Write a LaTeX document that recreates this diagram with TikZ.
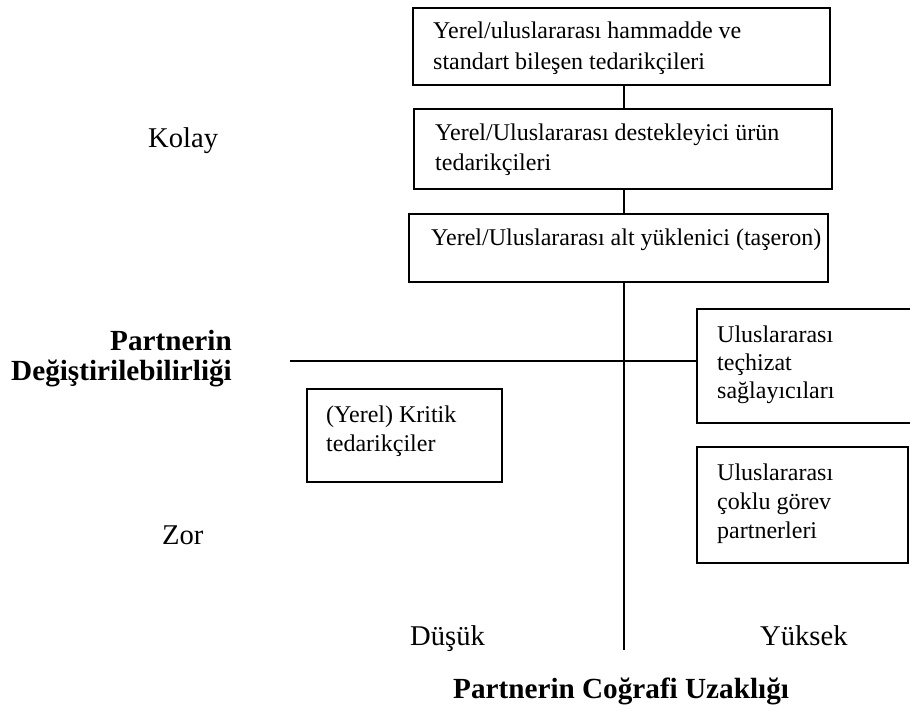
\documentclass[tikz,border=0pt]{standalone}
\usepackage{fontspec}
\setmainfont{Liberation Serif}
\begin{document}
\begin{tikzpicture}[x=1pt,y=-1pt,
  boxframe/.style={draw=black,line width=1.9pt,rectangle,inner sep=0pt,anchor=north west},
  boxtext/.style={anchor=base west,inner sep=0pt,align=left,font=\fontsize{24}{30}\selectfont},
  axislabel/.style={anchor=base west,inner sep=0pt,font=\fontsize{28.6}{32}\selectfont},
  axistitle/.style={inner sep=0pt,align=right,font=\fontsize{29.2}{30}\selectfont\bfseries},
  axisline/.style={draw=black,line width=1.3pt}]
\useasboundingbox (0,0) rectangle (910,717);

% chain of supplier boxes along the vertical axis
% (multi-line texts are placed by the baseline of their last line)
\node[boxframe,minimum width=417pt,minimum height=77pt] (b1) at (412,7) {};
\node[boxtext,font=\fontsize{24}{31}\selectfont] (t1) at (433,70) {Yerel/uluslararası hammadde ve\\standart bileşen tedarikçileri};
\node[boxframe,minimum width=418pt,minimum height=80pt] (b2) at (413,108) {};
\node[boxtext] (t2) at (435,170) {Yerel/Uluslararası destekleyici ürün\\tedarikçileri};
\node[boxframe,minimum width=419pt,minimum height=68pt] (b3) at (408,213) {};
\node[boxtext] (t3) at (431,245) {Yerel/Uluslararası alt yüklenici (taşeron)};

% boxes of the lower quadrants
\node[boxframe,minimum width=216pt,minimum height=114pt] (r1) at (696,308) {};
\node[boxtext,font=\fontsize{24}{28}\selectfont] (tr1) at (717,398) {Uluslararası\\teçhizat\\sağlayıcıları};
\node[boxframe,minimum width=211pt,minimum height=116pt] (r2) at (696,446) {};
\node[boxtext,font=\fontsize{24}{29}\selectfont] (tr2) at (717,538) {Uluslararası\\çoklu görev\\partnerleri};
\node[boxframe,minimum width=195pt,minimum height=93pt] (l1) at (306,388) {};
\node[boxtext,font=\fontsize{24}{29}\selectfont] (tl1) at (326,451) {(Yerel) Kritik\\tedarikçiler};

% axes
\coordinate (axbot) at (624,650);
\coordinate (axleft) at (290,361);
\draw[axisline] (b1.south -| axbot) -- (b2.north -| axbot);
\draw[axisline] (b2.south -| axbot) -- (b3.north -| axbot);
\draw[axisline] (b3.south -| axbot) -- (axbot);
\draw[axisline] (axleft) -- (axleft -| r1.west);

% axis labels
\node[axislabel] (kolay) at (148,147) {Kolay};
\node[axislabel] (zor) at (162,544) {Zor};
\node[axislabel] (dusuk) at (410,645) {Düşük};
\node[axislabel] (yuksek) at (760,645) {Yüksek};
\node[axistitle,anchor=base east] (ytitle) at (232,380) {Partnerin\\Değiştirilebilirliği};
\node[axistitle,anchor=base west] (xtitle) at (453,698) {Partnerin Coğrafi Uzaklığı};
\end{tikzpicture}
\end{document}
